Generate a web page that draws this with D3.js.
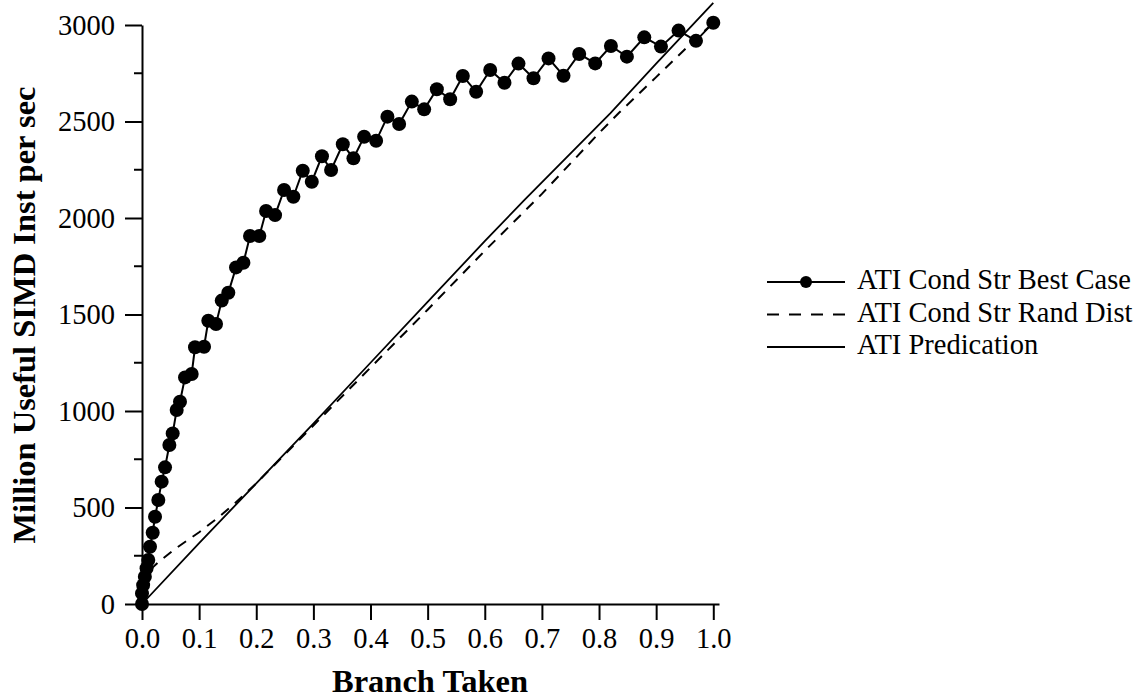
<!DOCTYPE html>
<html>
<head>
<meta charset="utf-8">
<script src="https://cdn.jsdelivr.net/npm/d3@7"></script>
<style>
  body { margin: 0; background: white; }
  text { font-family: "Liberation Serif", "Times New Roman", serif; fill: black; }
</style>
</head>
<body>
<script>
var width = 1148;
var height = 698;

// best case (markers)
var bestX = [0, 0, 0.002, 0.005, 0.008, 0.011, 0.014, 0.0187, 0.0228, 0.0286,
  0.0344, 0.0403, 0.0479, 0.0537, 0.0607, 0.0665, 0.0753, 0.087, 0.0928, 0.1086,
  0.1161, 0.1296, 0.1396, 0.1511, 0.1646, 0.1775, 0.1891, 0.2054, 0.2172, 0.2329,
  0.2487, 0.265, 0.2814, 0.2972, 0.315, 0.331, 0.3515, 0.3701, 0.3888, 0.4098,
  0.4296, 0.4501, 0.4723, 0.4939, 0.5161, 0.5394, 0.5616, 0.5849, 0.6095, 0.6345,
  0.659, 0.6853, 0.7116, 0.7378, 0.7653, 0.7933, 0.8208, 0.8488, 0.8792, 0.9084,
  0.9392, 0.9697, 1.0];
var bestY = [0, 55, 98, 141, 185, 228, 297, 369, 452, 539,
  634, 708, 824, 884, 1005, 1048, 1174, 1192, 1330, 1333,
  1468, 1451, 1572, 1613, 1744, 1768, 1907, 1907, 2036, 2015,
  2145, 2110, 2245, 2188, 2320, 2249, 2382, 2309, 2421, 2400,
  2525, 2487, 2603, 2563, 2667, 2615, 2736, 2654, 2767, 2701,
  2800, 2724, 2827, 2737, 2850, 2801, 2891, 2836, 2936, 2888,
  2971, 2918, 3012];

// random distribution (dashed)
var randX = [0, 0.008, 0.03, 0.06, 0.1, 0.13, 0.16, 0.2, 0.3, 0.4, 0.5, 0.6, 0.7, 0.8, 0.835, 0.9, 0.97, 1.0];
var randY = [0, 160, 220, 290, 372, 440, 515, 625, 925, 1225, 1525, 1830, 2125, 2440, 2545, 2730, 2930, 3010];

// predication (solid)
var predX = [0, 0.1, 0.2, 0.3, 0.4, 0.5, 0.6, 0.67, 0.82, 0.9, 1.0];
var predY = [0, 315, 625, 935, 1250, 1565, 1880, 2095, 2543, 2800, 3115];

var xTicks = [0, 0.1, 0.2, 0.3, 0.4, 0.5, 0.6, 0.7, 0.8, 0.9, 1.0];
var yTicks = [0, 500, 1000, 1500, 2000, 2500, 3000];
var yMinor = [250, 750, 1250, 1750, 2250, 2750];

var legendNames = ["ATI Cond Str Best Case", "ATI Cond Str Rand Dist", "ATI Predication"];

var xScale = d3.scaleLinear().domain([0, 1.01]).range([142, 719]);
var yScale = d3.scaleLinear().domain([0, 3000]).range([604, 25]);

const svg = d3
  .select("body")
  .append("svg")
  .attr("width", width)
  .attr("height", height);

function toPoints(xs, ys) {
  return xs.map(function (x, i) {
    return [x, ys[i]];
  });
}

var line = d3
  .line()
  .x(function (d) { return xScale(d[0]); })
  .y(function (d) { return yScale(d[1]); });

// axes
var xAxis = d3
  .axisBottom(xScale)
  .tickValues(xTicks)
  .tickFormat(d3.format(".1f"))
  .tickSize(16)
  .tickSizeOuter(0)
  .tickPadding(8);

var gx = svg
  .append("g")
  .attr("transform", "translate(0," + yScale(0) + ")")
  .call(xAxis);

var yAxis = d3
  .axisLeft(yScale)
  .tickValues(yTicks)
  .tickFormat(d3.format("d"))
  .tickSize(17)
  .tickSizeOuter(0)
  .tickPadding(10);

var gy = svg
  .append("g")
  .attr("transform", "translate(" + xScale(0) + ",0)")
  .call(yAxis);

gy.selectAll(".minor")
  .data(yMinor)
  .enter()
  .append("line")
  .attr("class", "minor")
  .attr("x1", -8)
  .attr("x2", 0)
  .attr("y1", function (d) { return yScale(d); })
  .attr("y2", function (d) { return yScale(d); })
  .attr("stroke", "black")
  .attr("stroke-width", 2);

[gx, gy].forEach(function (g) {
  g.select(".domain").attr("stroke-width", 2);
  g.selectAll(".tick line").attr("stroke-width", 2);
  g.selectAll(".tick text")
    .style("font-family", '"Liberation Serif", "Times New Roman", serif')
    .style("font-size", "28.5px");
});

// axis titles
svg
  .append("text")
  .attr("x", 430)
  .attr("y", 692)
  .attr("text-anchor", "middle")
  .style("font-size", "32.5px")
  .style("font-weight", "bold")
  .text("Branch Taken");

svg
  .append("text")
  .attr("transform", "translate(35,315) rotate(-90)")
  .attr("text-anchor", "middle")
  .style("font-size", "32.5px")
  .style("font-weight", "bold")
  .text("Million Useful SIMD Inst per sec");

// series
svg
  .append("path")
  .attr("d", line(toPoints(predX, predY)))
  .attr("fill", "none")
  .attr("stroke", "black")
  .attr("stroke-width", 1.8);

svg
  .append("path")
  .attr("d", line(toPoints(randX, randY)))
  .attr("fill", "none")
  .attr("stroke", "black")
  .attr("stroke-width", 2)
  .attr("stroke-dasharray", "10,8");

var bestPts = toPoints(bestX, bestY);

svg
  .append("path")
  .attr("d", line(bestPts))
  .attr("fill", "none")
  .attr("stroke", "black")
  .attr("stroke-width", 2);

svg
  .append("g")
  .selectAll("circle")
  .data(bestPts)
  .enter()
  .append("circle")
  .attr("cx", function (d) { return xScale(d[0]); })
  .attr("cy", function (d) { return yScale(d[1]); })
  .attr("r", 7)
  .attr("fill", "black");

// legend
var legend = svg
  .append("g")
  .selectAll("g")
  .data(legendNames)
  .enter()
  .append("g")
  .attr("transform", function (d, i) {
    return "translate(767," + (282 + i * 32.5) + ")";
  });

legend
  .append("line")
  .attr("x1", 0)
  .attr("x2", 78)
  .attr("y1", 0)
  .attr("y2", 0)
  .attr("stroke", "black")
  .attr("stroke-width", 2)
  .attr("stroke-dasharray", function (d, i) { return i == 1 ? "12,10" : null; });

legend
  .filter(function (d, i) { return i == 0; })
  .append("circle")
  .attr("cx", 39)
  .attr("cy", 0)
  .attr("r", 6)
  .attr("fill", "black");

legend
  .append("text")
  .attr("x", 90)
  .attr("y", 7)
  .style("font-size", "28.5px")
  .text(function (d) { return d; });
</script>
</body>
</html>
